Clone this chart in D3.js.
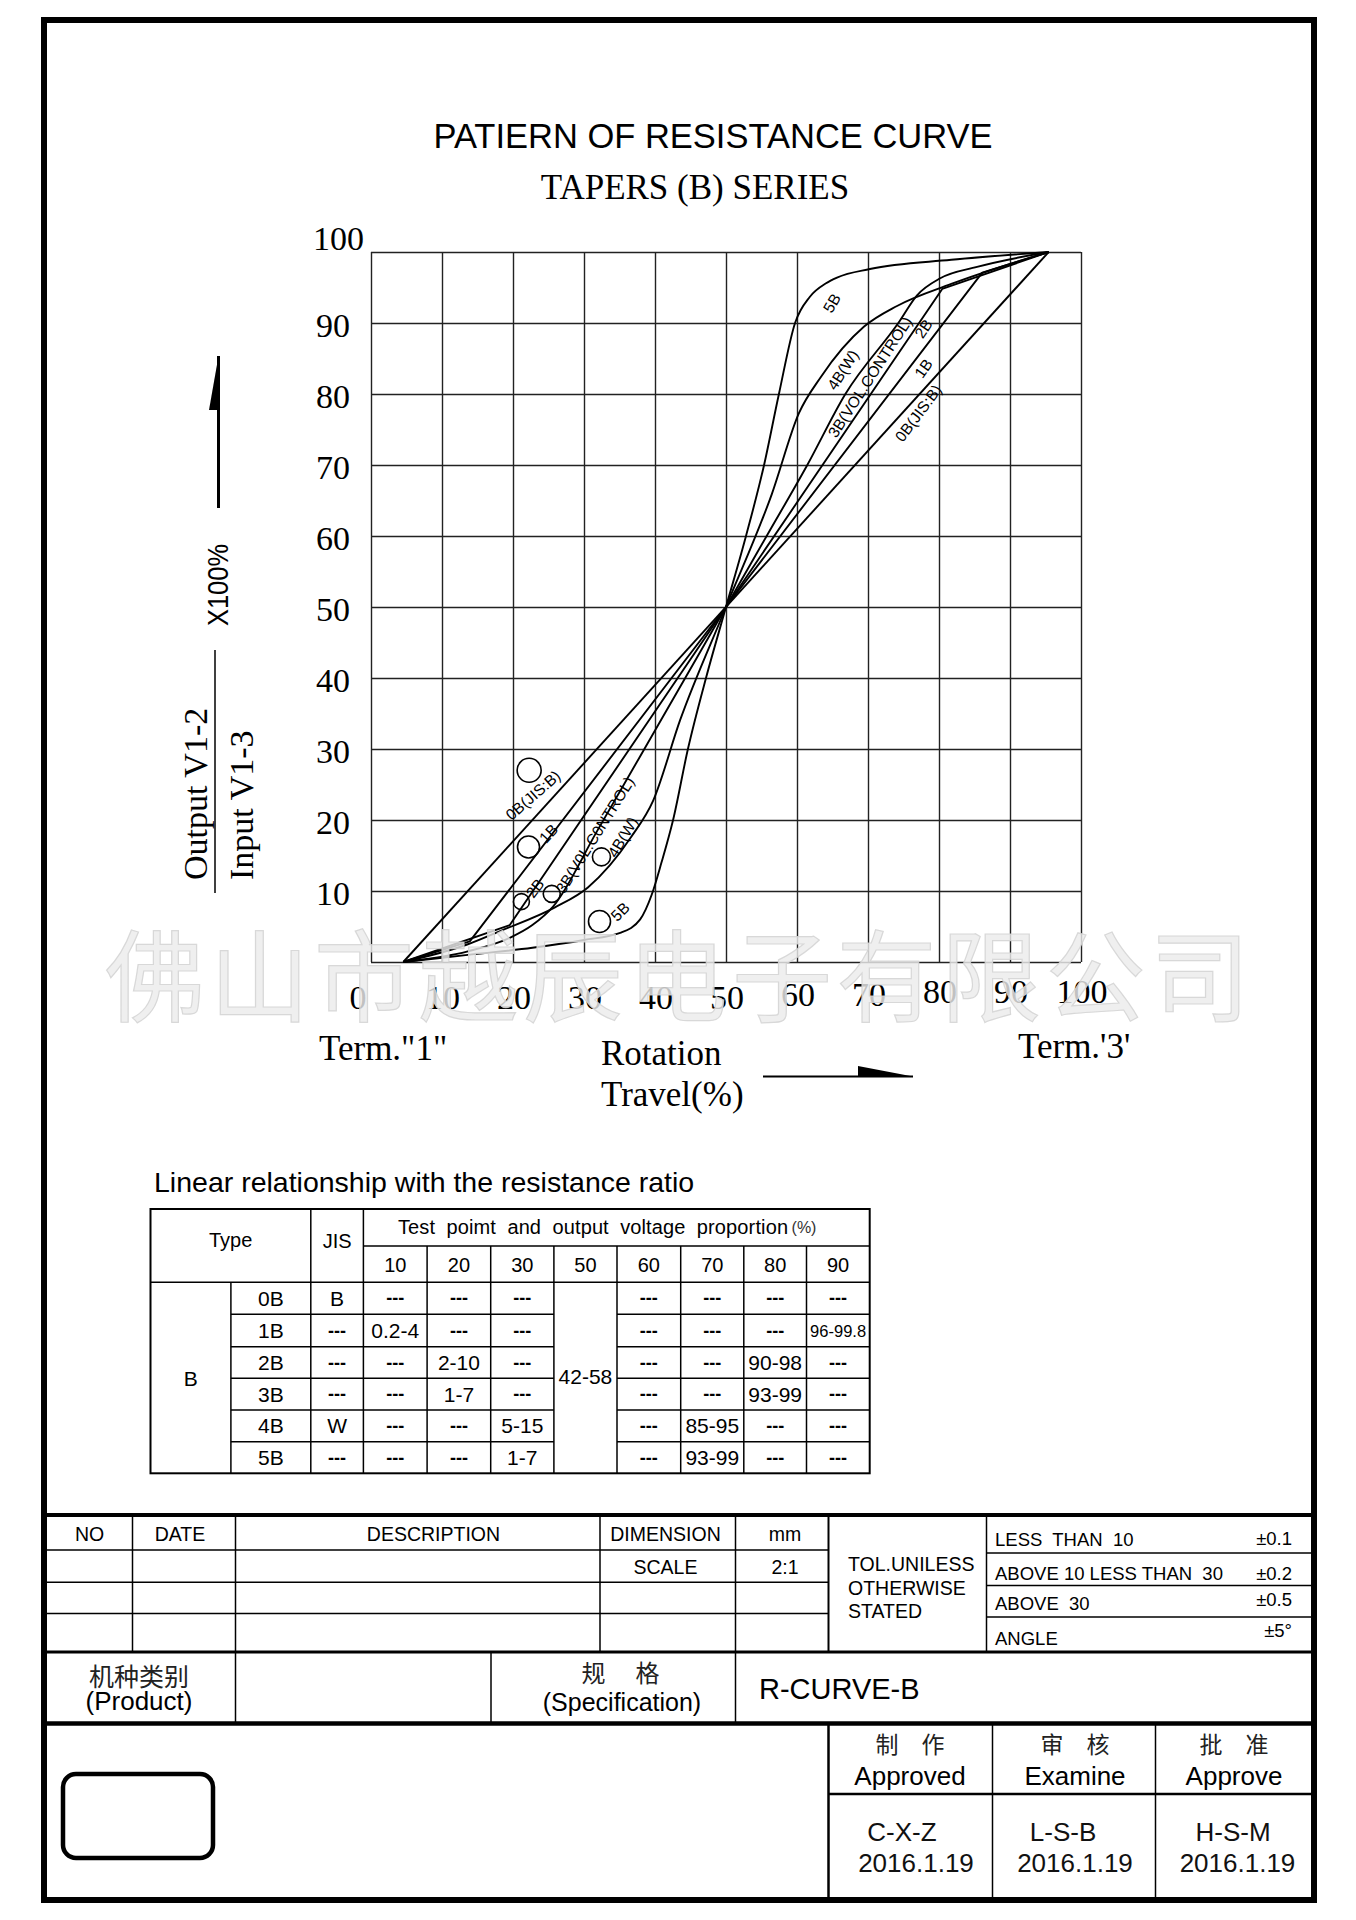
<!DOCTYPE html>
<html>
<head>
<meta charset="utf-8">
<script src="https://cdn.jsdelivr.net/npm/d3@7"></script>
<style>
body { margin: 0; background: #fff; }
text { white-space: pre; }
</style>
</head>
<body>
<div id="sheet"></div>
<script>
// Tick labels
var travelTicks = [0, 10, 20, 30, 40, 50, 60, 70, 80, 90, 100];
var outputTicks = [10, 20, 30, 40, 50, 60, 70, 80, 90, 100];

// Curves: [rotation travel %, output %]
var taper0B = [[0, 0], [100, 100]];
var taper1B = [[0, 0], [10.3, 2.9], [50, 50], [89.7, 97.1], [100, 100]];
var taper2B = [[0, 0], [16.5, 5.2], [50, 50], [83.5, 94.8], [100, 100]];
var taper3B = [[0, 0], [10, 1.5], [16.5, 3.4], [20, 5.2], [23.2, 7.8], [30, 18.4], [40, 34.2], [50, 50],
               [56.3, 60], [62.6, 70], [68.5, 80], [76.7, 90], [79.6, 93.9], [83.2, 96.3], [88.9, 97.9], [100, 100]];
var taper4B = [[0, 0], [10, 2.5], [15.1, 4.4], [23.5, 7.7], [28.6, 10.5], [35.3, 17.6], [38.7, 22.7], [42.9, 34.1], [50, 50],
               [57.1, 65.9], [61.3, 77.3], [64.7, 82.4], [71.4, 89.5], [76.5, 92.4], [84.9, 95.5], [100, 100]];
var taper5B = [[0, 0], [10, 1.0], [20, 2.0], [28, 3.1], [33.6, 4.1], [36.7, 6], [38.5, 9.5], [40, 14], [41.8, 20], [44.1, 30], [46.9, 40], [50, 50],
               [53.1, 60], [55.9, 70], [58.2, 80], [60.7, 90], [63, 93.7], [65.5, 95.6], [67.2, 96.4], [72.3, 97.6], [84.9, 98.9], [100, 100]];

// Curve tags: [text, travel, output, angle]
var upperTags = [["0B(JIS:B)", 79.8, 77.3, -53], ["1B", 80.6, 83.6, -55], ["2B", 80.6, 89.2, -56],
                 ["3B(VOL.CONTROL)", 72.3, 82.4, -57], ["4B(W)", 68.1, 83.4, -57], ["5B", 66.4, 92.8, -60]];
var lowerTags = [["0B(JIS:B)", 20.1, 23.5, -41], ["1B", 22.5, 18.1, -47], ["2B", 20.4, 10.4, -52],
                 ["3B(V0L.C0NTROL)", 29.7, 17.9, -58], ["4B(W)", 34.0, 17.6, -59], ["5B", 33.6, 7.1, -45]];
// Test point circles: [travel, output, radius]
var testMarks = [[19.5, 27.0, 12], [19.4, 16.2, 11], [18.3, 8.5, 8], [23.0, 9.6, 8.5], [30.7, 14.8, 9], [30.4, 5.7, 11]];

// Table
var tableTypes = ["0B", "1B", "2B", "3B", "4B", "5B"];
var tableJIS = ["B", "---", "---", "---", "W", "---"];
var tablePoints = [10, 20, 30, 50, 60, 70, 80, 90];
var tableRows = [
    ["---", "---", "---", null, "---", "---", "---", "---"],
    ["0.2-4", "---", "---", null, "---", "---", "---", "96-99.8"],
    ["---", "2-10", "---", null, "---", "---", "90-98", "---"],
    ["---", "1-7", "---", null, "---", "---", "93-99", "---"],
    ["---", "---", "5-15", null, "---", "85-95", "---", "---"],
    ["---", "---", "1-7", null, "---", "93-99", "---", "---"]];
var centreRange = "42-58";

// Title block
var revHeads = ["NO", "DATE", "DESCRIPTION", "DIMENSION", "mm"];
var tolLines = ["TOL.UNILESS", "OTHERWISE", "STATED"];
var tolRows = [["LESS  THAN  10", "±0.1"], ["ABOVE 10 LESS THAN  30", "±0.2"], ["ABOVE  30", "±0.5"], ["ANGLE", "±5°"]];
var signHeads = [["制　作", "Approved"], ["审　核", "Examine"], ["批　准", "Approve"]];
var signers = [["C-X-Z", "2016.1.19"], ["L-S-B", "2016.1.19"], ["H-S-M", "2016.1.19"]];

var SANS = "'Liberation Sans', Arial, sans-serif";
var SERIF = "'Liberation Serif', 'Times New Roman', serif";
var CJK = "'Noto Sans CJK SC', sans-serif";

function label(g, str, x, y, o) {
    o = o || {};
    var t = g.append("text")
        .attr("x", x)
        .attr("y", y)
        .attr("fill", o.fill || "#000")
        .style("font-family", o.font || SANS)
        .style("font-size", (o.size || 20) + "px")
        .style("text-anchor", o.anchor || "start")
        .text(str);
    if (o.weight) t.style("font-weight", o.weight);
    if (o.spacing) t.style("letter-spacing", o.spacing + "px");
    if (o.rotate) t.attr("transform", "rotate(" + o.rotate + "," + x + "," + y + ")");
    if (o.len) t.attr("textLength", o.len).attr("lengthAdjust", o.adjust || "spacingAndGlyphs");
    if (o.middle) t.attr("dominant-baseline", "central");
    return t;
}

function hline(g, x1, x2, y, w) {
    g.append("line").attr("x1", x1).attr("x2", x2).attr("y1", y).attr("y2", y)
        .attr("stroke", "#000").attr("stroke-width", w || 1.5);
}
function vline(g, x, y1, y2, w) {
    g.append("line").attr("x1", x).attr("x2", x).attr("y1", y1).attr("y2", y2)
        .attr("stroke", "#000").attr("stroke-width", w || 1.5);
}

function DrawSheet() {
    var svg = d3.select("#sheet").append("svg")
        .attr("width", 1356)
        .attr("height", 1920)
        .style("display", "block")
        .style("background", "#fff");

    // Titles
    label(svg, "PATIERN OF RESISTANCE CURVE", 713, 148, {size: 34.5, anchor: "middle"});
    label(svg, "TAPERS (B) SERIES", 695, 199, {size: 35, anchor: "middle", font: SERIF});

    // Scales: grid runs on the printed ticks, curves run from the inset end points
    var x = d3.scaleLinear().domain([0, 100]).range([371, 1081]);
    var y = d3.scaleLinear().domain([0, 100]).range([962, 252]);
    var xt = d3.scaleLinear().domain([0, 100]).range([x(4.55), x(95.45)]);

    // Grid through the axes
    var plot = svg.append("g");
    var gx = plot.append("g").attr("transform", "translate(0," + y(0) + ")")
        .call(d3.axisBottom(x).tickValues(travelTicks).tickSize(-(y(0) - y(100))).tickFormat(""));
    var gy = plot.append("g").attr("transform", "translate(" + x(0) + ",0)")
        .call(d3.axisLeft(y).tickValues([0].concat(outputTicks)).tickSize(-(x(100) - x(0))).tickFormat(""));
    [gx, gy].forEach(function(a) {
        a.select(".domain").remove();
        a.selectAll(".tick line").attr("stroke", "#222").attr("stroke-width", 1.4);
    });

    // Tick labels
    travelTicks.forEach(function(v) {
        var lift = v >= 80 ? 6 : (v >= 60 ? 3 : 0);
        label(svg, v, x(v) + (v == 0 ? -13 : 1), 1009 - lift, {size: 34, anchor: "middle", font: SERIF});
    });
    outputTicks.forEach(function(v) {
        if (v == 100) label(svg, v, 364, y(v) - 2, {size: 34, anchor: "end", font: SERIF});
        else label(svg, v, 350, y(v) + 14, {size: 34, anchor: "end", font: SERIF});
    });

    // Curves
    var curves = [[taper0B, d3.curveLinear], [taper1B, d3.curveLinear], [taper2B, d3.curveLinear],
                  [taper3B, d3.curveMonotoneX], [taper4B, d3.curveMonotoneX], [taper5B, d3.curveMonotoneX]];
    curves.forEach(function(c) {
        var line = d3.line()
            .x(function(d) { return xt(d[0]); })
            .y(function(d) { return y(d[1]); })
            .curve(c[1]);
        plot.append("path")
            .datum(c[0])
            .attr("d", line)
            .attr("fill", "none")
            .attr("stroke", "#000")
            .attr("stroke-width", 1.9)
            .attr("stroke-linejoin", "round");
    });

    // Curve tags and test point circles
    upperTags.concat(lowerTags).forEach(function(t) {
        label(plot, t[0], xt(t[1]), y(t[2]), {size: 15.5, anchor: "middle", rotate: t[3], middle: true});
    });
    plot.selectAll("circle.mark")
        .data(testMarks)
        .enter().append("circle")
        .attr("cx", function(d) { return xt(d[0]); })
        .attr("cy", function(d) { return y(d[1]); })
        .attr("r", function(d) { return d[2]; })
        .attr("fill", "none")
        .attr("stroke", "#000")
        .attr("stroke-width", 1.6);

    // Axis titles and arrows
    label(svg, "Term.\"1\"", 319, 1060, {size: 35, font: SERIF});
    label(svg, "Rotation", 601, 1065, {size: 35, font: SERIF});
    label(svg, "Travel(%)", 601, 1106, {size: 35, font: SERIF});
    label(svg, "Term.'3'", 1018, 1058, {size: 35, font: SERIF});
    hline(svg, 763, 913, 1076.5, 2.2);
    svg.append("polygon").attr("points", "858,1066 913,1076.5 858,1076.5").attr("fill", "#000");

    vline(svg, 218.5, 356, 508, 3);
    svg.append("polygon").attr("points", "218.5,356 209,410 218.5,410").attr("fill", "#000");
    label(svg, "X100%", 228, 585, {size: 29, anchor: "middle", rotate: -90, len: 82});
    vline(svg, 215, 650, 893, 1.5);
    label(svg, "Output V1-2", 207, 880, {size: 34, font: SERIF, rotate: -90});
    label(svg, "Input V1-3", 253, 880, {size: 34, font: SERIF, rotate: -90});

    // Table
    var tb = svg.append("g");
    var cx = [150.5, 230.9, 310.8, 363.4, 427.1, 490.7, 553.9, 617, 680.7, 743.8, 806.5, 869.7];
    var ry = [1209, 1246, 1282.3, 1314.3, 1346.7, 1378.3, 1410, 1441.7, 1473.3];
    label(tb, "Linear relationship with the resistance ratio", 154, 1191.5, {size: 28.5});
    tb.append("rect").attr("x", cx[0]).attr("y", ry[0]).attr("width", cx[11] - cx[0]).attr("height", ry[8] - ry[0])
        .attr("fill", "none").attr("stroke", "#000").attr("stroke-width", 2);
    hline(tb, cx[3], cx[11], ry[1]);
    hline(tb, cx[0], cx[11], ry[2]);
    for (var r = 3; r < 8; r++) {
        hline(tb, cx[1], cx[6], ry[r]);
        hline(tb, cx[7], cx[11], ry[r]);
    }
    vline(tb, cx[1], ry[2], ry[8]);
    vline(tb, cx[2], ry[0], ry[8]);
    vline(tb, cx[3], ry[0], ry[8]);
    for (var c = 4; c < 11; c++) vline(tb, cx[c], ry[1], ry[8]);

    label(tb, "Type", (cx[0] + cx[2]) / 2, 1247, {size: 20, anchor: "middle"});
    label(tb, "JIS", (cx[2] + cx[3]) / 2, 1248, {size: 20, anchor: "middle"});
    label(tb, "Test  poimt  and  output  voltage  proportion", 398, 1234, {size: 20, len: 390, adjust: "spacing"});
    label(tb, "(%)", 804, 1233, {size: 16, anchor: "middle", fill: "#333"});
    tablePoints.forEach(function(p, i) {
        label(tb, p, (cx[i + 3] + cx[i + 4]) / 2, 1271.5, {size: 20, anchor: "middle"});
    });
    label(tb, "B", (cx[0] + cx[1]) / 2, 1386, {size: 21, anchor: "middle"});
    label(tb, centreRange, (cx[6] + cx[7]) / 2, 1384, {size: 21, anchor: "middle"});

    function cell(str, c, r) {
        var mid = (ry[r + 2] + ry[r + 3]) / 2;
        var xc = (cx[c] + cx[c + 1]) / 2;
        if (str == "---") label(tb, str, xc, mid + 6, {size: 18, anchor: "middle", weight: "bold"});
        else if (str.length > 6) label(tb, str, xc, mid + 6, {size: 16.5, anchor: "middle"});
        else label(tb, str, xc, mid + 7.5, {size: 21, anchor: "middle"});
    }
    tableTypes.forEach(function(t, r) {
        cell(t, 1, r);
        cell(tableJIS[r], 2, r);
        tableRows[r].forEach(function(v, i) {
            if (v !== null) cell(v, i + 3, r);
        });
    });

    // Title block
    var tbk = svg.append("g");
    hline(tbk, 44, 1314, 1515, 4);
    hline(tbk, 44, 1314, 1652, 3);
    hline(tbk, 44, 1314, 1723.5, 4.5);
    [1550, 1582.3, 1613.5].forEach(function(v) { hline(tbk, 44, 828.5, v); });
    [1553, 1585.5, 1617].forEach(function(v) { hline(tbk, 986.5, 1314, v); });
    vline(tbk, 132.5, 1515, 1652);
    vline(tbk, 235.5, 1515, 1723.5);
    vline(tbk, 600, 1515, 1652);
    vline(tbk, 735.5, 1515, 1723.5);
    vline(tbk, 828.5, 1515, 1652, 2);
    vline(tbk, 986.5, 1515, 1652);
    vline(tbk, 491, 1652, 1723.5);
    vline(tbk, 828.5, 1723.5, 1900, 2.5);
    vline(tbk, 992.5, 1723.5, 1900);
    vline(tbk, 1155.5, 1723.5, 1900);
    hline(tbk, 828.5, 1314, 1794, 2.5);

    var headX = [89.5, 180, 433.5, 665.5, 785];
    revHeads.forEach(function(h, i) {
        label(tbk, h, headX[i], 1541, {size: 19.5, anchor: "middle"});
    });
    label(tbk, "SCALE", 665.5, 1574, {size: 19.5, anchor: "middle"});
    label(tbk, "2:1", 785, 1574, {size: 19.5, anchor: "middle"});
    tolLines.forEach(function(t, i) {
        label(tbk, t, 848, 1571 + i * 23.5, {size: 19.5});
    });
    var tolY = [1545.5, 1579.5, 1609.5, 1644.5];
    var pmY = [1545, 1579.5, 1606, 1636.5];
    tolRows.forEach(function(t, i) {
        label(tbk, t[0], 995, tolY[i], {size: 18.5});
        label(tbk, t[1], 1292, pmY[i], {size: 18.5, anchor: "end"});
    });

    label(tbk, "机种类别", 139, 1686, {size: 25, anchor: "middle", font: CJK, fill: "#222"});
    label(tbk, "(Product)", 139, 1710, {size: 26, anchor: "middle"});
    label(tbk, "规　格", 622, 1682, {size: 24, anchor: "middle", font: CJK, spacing: 3, fill: "#222"});
    label(tbk, "(Specification)", 622, 1711, {size: 25, anchor: "middle"});
    label(tbk, "R-CURVE-B", 759, 1699, {size: 29});

    var signX = [910, 1075, 1234];
    signHeads.forEach(function(s, i) {
        label(tbk, s[0], signX[i], 1753, {size: 23, anchor: "middle", font: CJK, fill: "#222"});
        label(tbk, s[1], signX[i], 1785, {size: 26, anchor: "middle"});
    });
    var nameX = [902, 1063, 1233];
    var dateX = [916, 1075, 1237.5];
    signers.forEach(function(s, i) {
        label(tbk, s[0], nameX[i], 1840.5, {size: 26, anchor: "middle", fill: "#111"});
        label(tbk, s[1], dateX[i], 1871.5, {size: 26, anchor: "middle", fill: "#111"});
    });

    tbk.append("rect").attr("x", 63).attr("y", 1774).attr("width", 150).attr("height", 84)
        .attr("rx", 13).attr("fill", "none").attr("stroke", "#000").attr("stroke-width", 4.5);

    // Outer frame
    svg.append("rect").attr("x", 44).attr("y", 20).attr("width", 1270).attr("height", 1880)
        .attr("fill", "none").attr("stroke", "#000").attr("stroke-width", 6);

    // Watermark
    label(svg, "佛山市越辰电子有限公司", 105, 1014, {size: 100, font: CJK, spacing: 4.5, fill: "#ececec"})
        .attr("fill-opacity", 0.82)
        .attr("stroke", "#d2d2d2")
        .attr("stroke-width", 1.2)
        .attr("stroke-opacity", 0.85);
}

DrawSheet();
</script>
</body>
</html>
